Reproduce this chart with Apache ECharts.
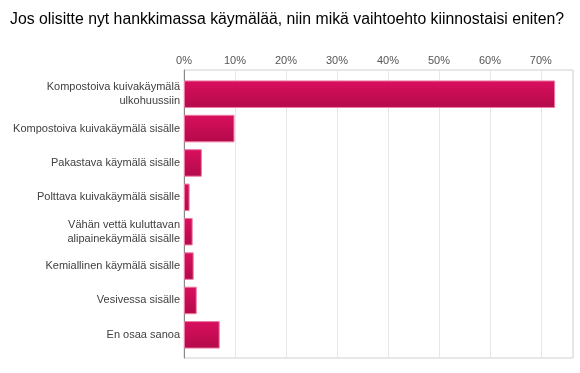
<!DOCTYPE html>
<html>
<head>
<meta charset="utf-8">
<script src="https://cdn.jsdelivr.net/npm/echarts@6/dist/echarts.min.js"></script>
<style>html,body{margin:0;padding:0;background:#fff}#c{width:580px;height:373px}</style>
</head>
<body>
<div id="c"></div>
<script>
var titleText = 'Jos olisitte nyt hankkimassa käymälää, niin mikä vaihtoehto kiinnostaisi eniten?';
var categories = [
  'Kompostoiva kuivakäymälä\nulkohuussiin',
  'Kompostoiva kuivakäymälä sisälle',
  'Pakastava käymälä sisälle',
  'Polttava kuivakäymälä sisälle',
  'Vähän vettä kuluttavan\nalipainekäymälä sisälle',
  'Kemiallinen käymälä sisälle',
  'Vesivessa sisälle',
  'En osaa sanoa'
];
var values = [72.8, 9.9, 3.5, 1.1, 1.7, 1.9, 2.5, 7.0];
var xMax = 76.3;

var chart = echarts.init(document.getElementById('c'), null, {renderer: 'canvas'});
var font = 'Liberation Sans, Arial, sans-serif';
chart.setOption({
  animation: false,
  title: {
    text: titleText, left: 5, top: 7,
    textStyle: {fontFamily: font, fontSize: 15.8, fontWeight: 'normal', color: '#000'}
  },
  grid: [
    {left: 184, right: 7, top: 70, bottom: 15, show: true, borderColor: '#d0d0d0', borderWidth: 1,
     backgroundColor: 'transparent', outerBoundsMode: 'none', containLabel: false},
    {left: 184, right: 7, top: 77, bottom: 21, outerBoundsMode: 'none', containLabel: false}
  ],
  xAxis: [
    {type: 'value', gridIndex: 0, position: 'top', min: 0, max: xMax, interval: 10,
     axisLine: {show: false}, axisTick: {show: false},
     splitLine: {show: true, lineStyle: {color: '#e6e6e6'}},
     axisLabel: {showMaxLabel: false, formatter: '{value}%', fontFamily: font, fontSize: 11, color: '#555', margin: 4}},
    {type: 'value', gridIndex: 1, min: 0, max: xMax, show: false}
  ],
  yAxis: [
    {type: 'value', gridIndex: 0, show: true, min: 0, max: 1,
     axisLine: {show: true, lineStyle: {color: '#888', width: 1}},
     axisLabel: {show: false}, axisTick: {show: false}, splitLine: {show: false}},
    {type: 'category', gridIndex: 1, inverse: true, data: categories,
     axisLine: {show: false}, axisTick: {show: false},
     axisLabel: {fontFamily: font, fontSize: 11, color: '#404040', margin: 4, lineHeight: 14, align: 'right'}}
  ],
  series: [{
    type: 'bar', xAxisIndex: 1, yAxisIndex: 1, data: values,
    barCategoryGap: '20%',
    itemStyle: {
      color: new echarts.graphic.LinearGradient(0, 0, 0, 1, [
        {offset: 0, color: '#da0f5e'}, {offset: 1, color: '#b30a4a'}
      ]),
      borderColor: '#ec7aa4', borderWidth: 1
    }
  }]
});
</script>
</body>
</html>
